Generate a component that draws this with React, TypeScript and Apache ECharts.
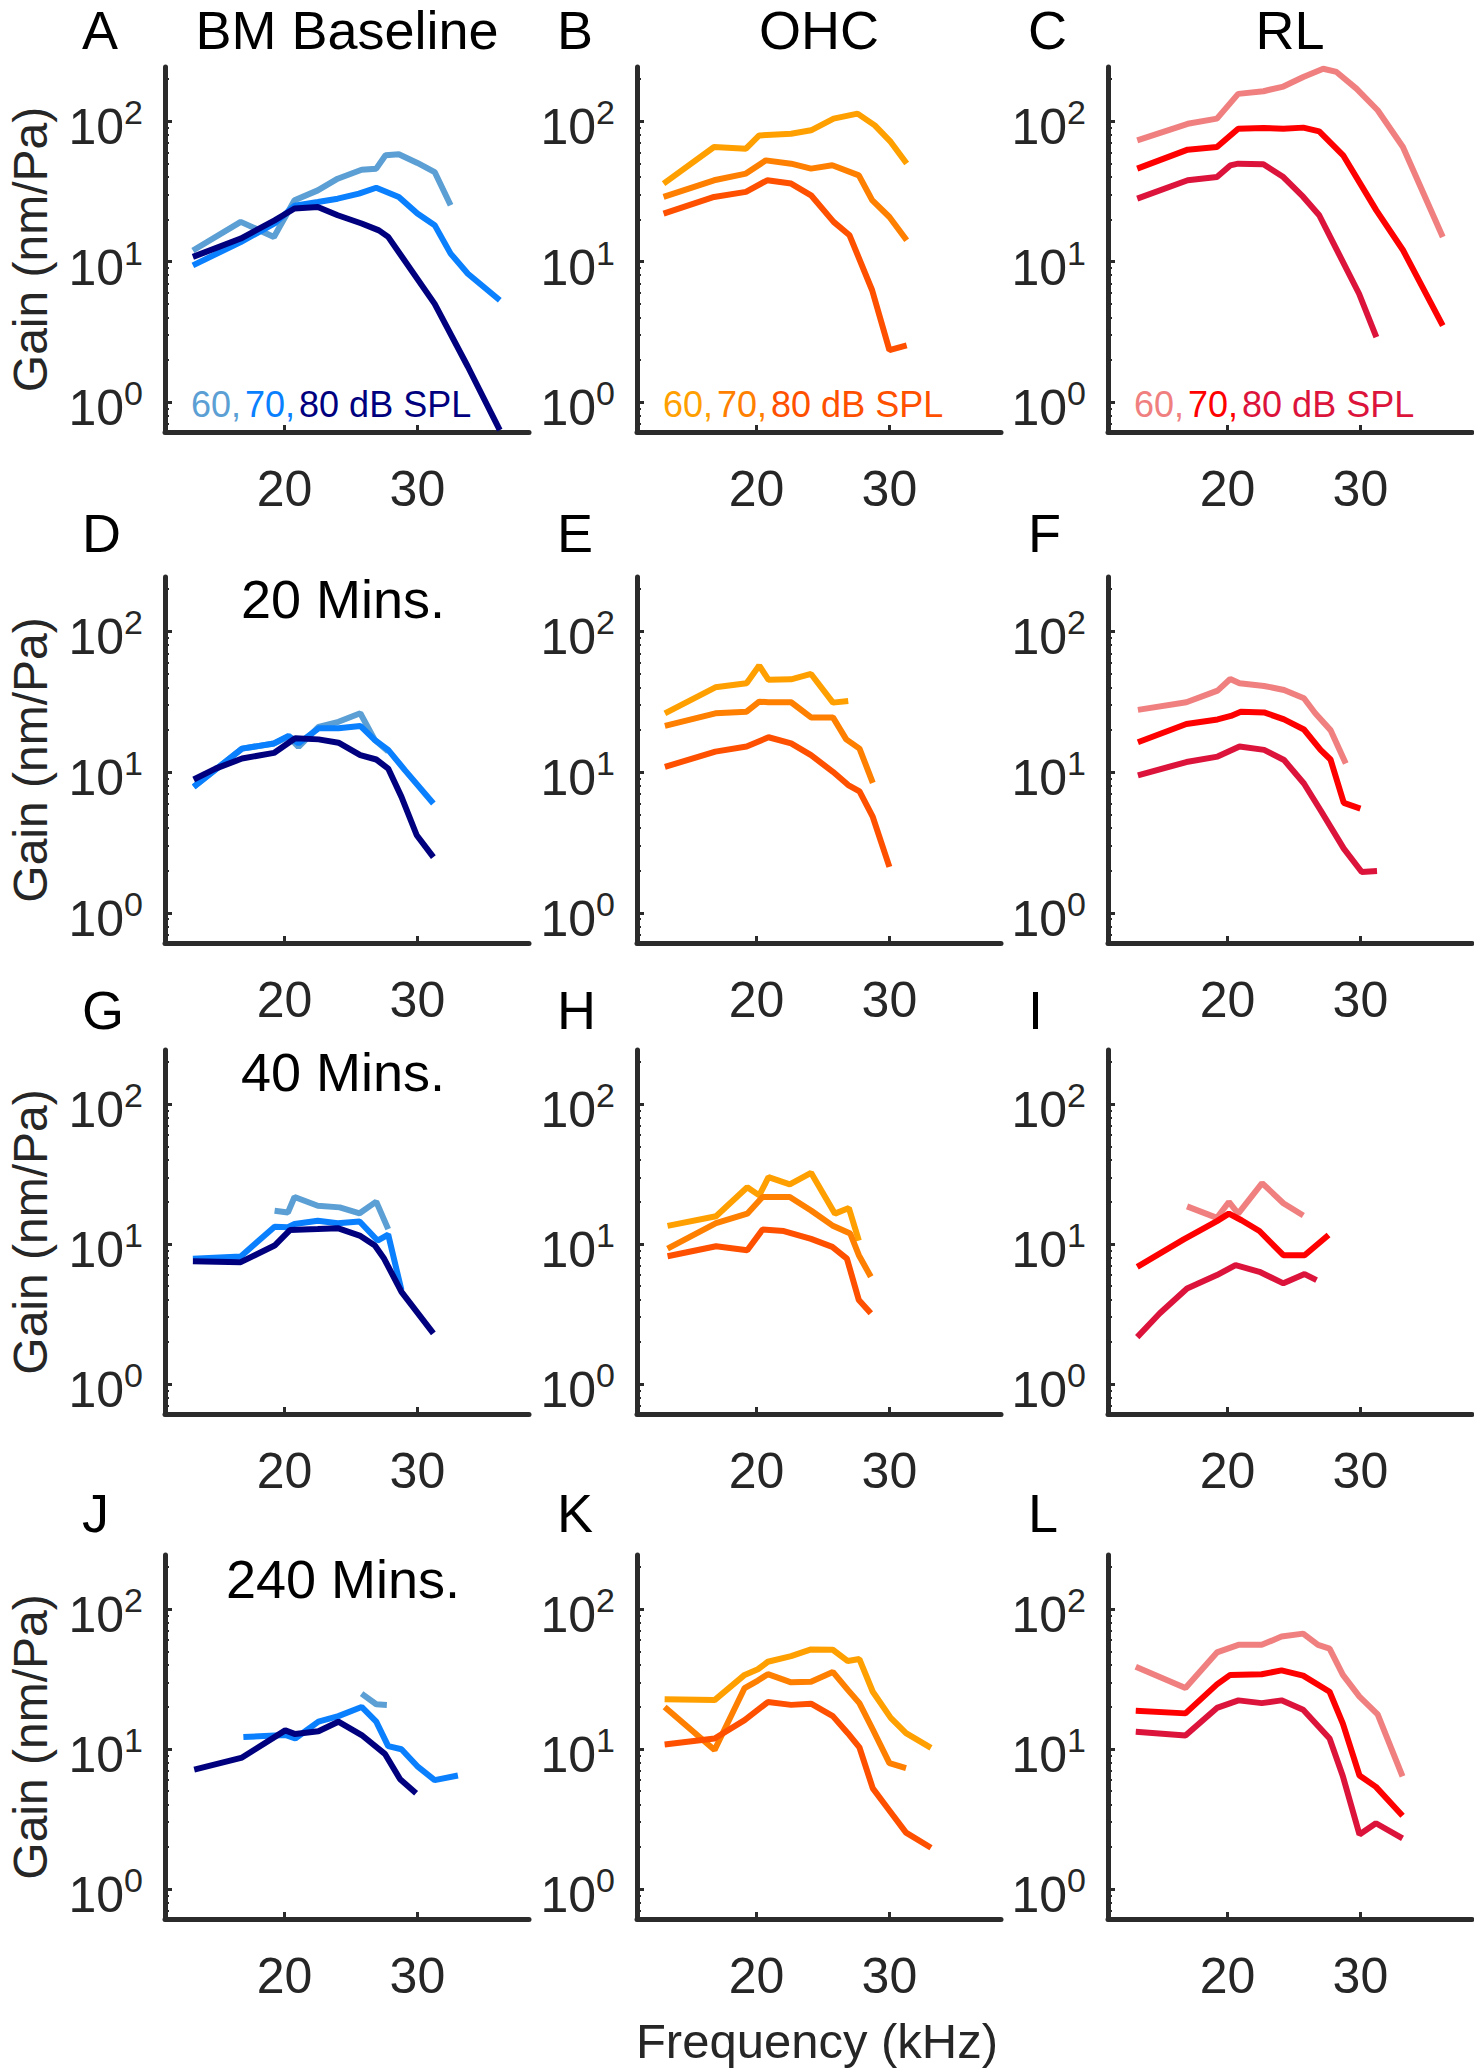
import { useEffect, useRef } from "react";
import * as echarts from "echarts";

// ---------- data: [frequency (kHz), gain (nm/Pa)] ----------
const A60 = [[13.1,12.0],[16.7,19.2],[19.2,15.0],[20.75,27.4],[22.5,32.2],[24.0,39.0],[25.8,45.2],[26.9,46],[27.6,57.3],[28.6,58.2],[30.0,50.5],[31.3,43.5],[32.5,25.2]];
const A70 = [[13.1,9.4],[16.7,13.8],[19.25,18.7],[20.75,25],[22.5,26.6],[24.0,28.1],[25.6,30.5],[26.9,33.6],[28.6,28.9],[30.0,22],[31.3,18.2],[32.5,11.4],[33.8,8.2],[36.2,5.3]];
const A80 = [[13.1,10.8],[16.7,14.6],[19.25,19.7],[20.75,23.9],[22.5,24.5],[24.0,21.4],[25.8,18.7],[27.1,16.7],[27.8,15.0],[31.3,5.0],[33.8,1.78],[36.2,0.63]];

const B60 = [[13.0,36],[16.8,65.6],[19.2,63.8],[20.2,79.4],[22.6,81.6],[24.1,86.3],[25.8,104.5],[27.6,113.5],[28.9,93.6],[30.1,71.3],[31.3,50]];
const B70 = [[13.0,28.9],[16.8,38],[19.2,42.4],[20.7,52.7],[22.6,49.9],[24.1,46],[25.7,48.6],[27.7,41.2],[28.7,27.4],[30.0,20.8],[31.3,14.2]];
const B80 = [[13.0,22],[16.8,28.9],[19.2,31.4],[20.8,38],[22.6,36],[24.1,29.7],[25.8,19.2],[27.0,15.4],[28.7,6.25],[30.0,2.34],[31.3,2.53]];

const C60 = [[13.2,73.2],[17.0,96],[19.2,104.5],[20.8,157],[22.7,164],[24.2,177],[25.7,207],[27.2,237],[28.2,225],[29.7,171],[31.3,120],[33.2,65.6],[36.2,15]];
const C70 = [[13.2,46],[17.0,62.8],[19.2,65.6],[20.8,88.7],[22.7,89.6],[24.2,88.7],[25.7,90.2],[26.9,84.9],[28.7,57.3],[31.2,23.2],[33.2,12.1],[36.2,3.5]];
const C80 = [[13.2,28.1],[17.0,38],[19.2,40.1],[20.2,48.5],[20.8,49.9],[22.7,49.4],[24.2,40.1],[25.7,28.9],[26.9,21.4],[29.9,5.9],[31.2,2.9]];

const D60 = [[13.16,7.86],[16.8,14.7],[19.2,16.0],[20.3,17.9],[21.05,15.1],[22.56,21.0],[24.06,22.8],[25.7,26.2],[26.8,16.9],[27.8,14.0]];
const D70 = [[13.16,7.86],[16.8,14.7],[19.2,16.0],[20.3,18.1],[21.05,16.0],[22.56,20.5],[24.06,20.5],[25.7,21.3],[26.8,16.9],[27.8,14.4],[29.07,10.3],[31.2,5.98]];
const D80 = [[13.16,8.87],[14.8,10.6],[16.8,12.5],[19.2,13.7],[20.8,17.4],[22.56,17.1],[24.06,16.2],[25.7,13.2],[26.9,12.3],[27.8,10.6],[28.8,6.67],[29.95,3.56],[31.2,2.49]];

const E60 = [[13.1,26.2],[16.9,40.1],[19.25,42.8],[20.2,57.3],[20.9,45.3],[22.6,45.7],[24.1,49.9],[25.75,31.2],[26.9,32.1]];
const E70 = [[13.1,21.3],[16.9,26.2],[19.25,26.9],[20.2,31.7],[20.9,31.4],[22.6,31.4],[24.1,24.5],[25.75,24.5],[26.75,17.1],[27.75,14.7],[28.75,8.4]];
const E80 = [[13.1,10.9],[16.9,14.0],[19.25,15.2],[20.9,17.7],[22.6,16.0],[24.1,13.2],[25.75,10.05],[26.9,8.1],[27.75,7.3],[28.75,4.8],[30.0,2.12]];

const F60 = [[13.25,27.7],[16.9,31.4],[19.25,38],[20.2,46],[20.9,42.8],[22.75,41],[24.25,38.4],[25.75,33.5],[26.6,26.2],[27.75,19.9],[28.9,11.5]];
const F70 = [[13.25,16.3],[16.9,22],[19.25,23.7],[20.25,25.1],[21,26.9],[22.75,26.6],[24.25,23.7],[25.75,20.1],[27,14.4],[27.75,12.3],[28.75,6.04],[30,5.5]];
const F80 = [[13.25,9.5],[16.9,11.8],[19.25,12.9],[20.9,15.2],[22.75,14.4],[24.25,12.2],[25.75,8.3],[27,5.36],[28.75,2.86],[30.1,1.95],[31.25,1.98]];

const G60 = [[19.25,17.3],[20.25,16.8],[20.75,21.7],[22.5,18.8],[24.15,18.3],[25.65,16.6],[26.9,20.1],[27.8,12.8]];
const G70 = [[13.1,7.85],[16.7,8.15],[19.25,13.3],[20.25,13.2],[20.75,13.9],[22.5,14.7],[24.0,14.1],[25.65,14.5],[27.0,10.6],[27.8,11.7],[28.8,4.68]];
const G80 = [[13.1,7.55],[16.7,7.43],[19.25,9.76],[20.4,12.6],[22.5,12.8],[24.0,13.0],[25.65,11.5],[26.8,9.76],[27.5,7.85],[28.8,4.55],[31.2,2.3]];

const H60 = [[13.3,13.5],[16.95,15.8],[19.3,25.5],[20.2,22.3],[20.9,30.1],[22.5,26.7],[24.1,32.3],[25.9,16.5],[26.95,18.1],[27.7,10.6]];
const H70 = [[13.3,9.29],[16.95,14.1],[19.3,16.5],[20.45,21.7],[22.5,21.7],[24.1,17.4],[25.7,13.6],[27.05,11.9],[27.7,8.33],[28.6,5.84]];
const H80 = [[13.3,8.19],[16.95,9.65],[19.3,9.04],[20.45,12.7],[22.05,12.4],[24.1,10.9],[25.7,9.55],[26.8,7.88],[27.7,3.98],[28.6,3.2]];

const I60 = [[16.95,18.6],[19.2,15.4],[20.1,20.0],[20.8,16.5],[22.6,27.3],[24.2,19.6],[25.7,16.0]];
const I70 = [[13.2,6.88],[16.7,10.8],[19.2,14.6],[20.1,16.5],[21.05,14.8],[22.4,12.4],[24.2,8.33],[25.8,8.33],[27.6,11.6]];
const I80 = [[13.2,2.16],[14.9,3.2],[16.95,4.82],[19.2,6.0],[20.6,7.07],[22.4,6.34],[24.2,5.24],[25.8,6.1],[26.7,5.53]];

const J60 = [[25.8,24.9],[26.9,20.9],[27.7,20.7]];
const J70 = [[16.9,12.2],[20.05,12.6],[20.8,11.9],[22.55,15.7],[24.05,17.2],[25.8,20.0],[26.9,15.7],[27.8,10.5],[28.8,9.97],[30.05,7.45],[31.3,6.0],[33.05,6.47]];
const J80 = [[13.2,7.14],[16.8,8.7],[20.05,13.6],[20.8,12.8],[22.55,13.4],[24.05,15.7],[25.8,12.6],[27.55,9.25],[28.7,6.08],[29.9,4.84]];

const K60 = [[13.08,22.7],[16.84,22.4],[19.1,33.9],[20.1,37.2],[20.85,42.1],[22.6,46.2],[24.1,51.6],[25.74,51.3],[26.87,42.6],[27.74,44.0],[28.75,25.7],[30.1,16.7],[31.25,13.0],[33.13,10.2]];
const K70 = [[13.08,20.0],[16.84,9.84],[19.1,27.3],[20.1,30.9],[20.85,34.3],[22.6,30.0],[24.1,30.3],[25.74,35.6],[26.87,26.5],[27.74,21.3],[28.75,13.8],[30.0,7.93],[31.25,7.32]];
const K80 = [[13.08,10.8],[16.84,11.9],[19.1,16.1],[20.85,21.7],[22.6,20.7],[24.1,21.1],[25.74,17.2],[26.87,13.0],[27.74,10.3],[28.75,5.24],[29.87,3.78],[31.25,2.53],[33.13,1.97]];

const L60 = [[13.09,38.8],[16.83,27.3],[19.2,49.1],[20.82,55.6],[22.57,55.6],[24.06,63.7],[25.69,66.9],[26.81,55.6],[27.68,52.3],[28.68,33.9],[29.93,23.7],[31.3,17.7],[33.17,6.39]];
const L70 = [[13.09,18.8],[16.83,18.0],[19.2,29.0],[20.2,33.9],[22.57,34.3],[24.06,36.5],[25.69,33.5],[27.68,25.7],[28.68,15.2],[29.93,6.47],[31.17,5.37],[33.17,3.34]];
const L80 = [[13.09,13.3],[16.83,12.5],[19.2,19.7],[20.82,22.3],[22.57,21.3],[24.06,22.3],[25.69,19.1],[27.68,11.9],[28.68,6.39],[29.93,2.45],[31.17,2.95],[33.17,2.30]];

const X_TICKS = [20, 30];
const Y_MAJOR = [1, 10, 100];
const Y_MINOR = [0.7, 0.8, 0.9, 2, 3, 4, 5, 6, 7, 8, 9, 20, 30, 40, 50, 60, 70, 80, 90, 200];
const LEVELS = ["60,", "70,", "80 dB SPL"];
const COLUMN_TITLES = ["BM Baseline", "OHC", "RL"];
const ROW_LABELS = ["", "20 Mins.", "40 Mins.", "240 Mins."];
const LETTERS = ["A", "B", "C", "D", "E", "F", "G", "H", "I", "J", "K", "L"];

const BLUES = ["#5b9fd4", "#0a80ff", "#00007f"];
const ORANGES = ["#ffa000", "#ff7f00", "#ff5000"];
const REDS = ["#f08080", "#ff0000", "#dc143c"];
const COL_COLORS = [BLUES, ORANGES, REDS];

const PANEL_DATA = [
  [A60, A70, A80], [B60, B70, B80], [C60, C70, C80],
  [D60, D70, D80], [E60, E70, E80], [F60, F70, F80],
  [G60, G70, G80], [H60, H70, H80], [I60, I70, I80],
  [J60, J70, J80], [K60, K70, K80], [L60, L70, L80],
];

// ---------- layout ----------
const W = 1474;
const H = 2070;
const COL_LEFT = [165, 637, 1108];
const GRID_W = 364;
const ROW_TOP = [67, 577, 1050, 1555];
const ROW_H = [365, 366, 364, 364];
const LETTER_X = [82, 557, 1028];
const LETTER_Y = [30, 533, 1010, 1513];
const ROW_LABEL_Y = [0, 599, 1072, 1579];
const X_MIN = 11;
const X_MAX = 38.4;
const Y_MIN = 0.61;
const Y_MAX = 244;

const FONT = "'Liberation Sans', Arial, Helvetica, sans-serif";
const AXIS = "#2b2b2b";
const LABEL = "#262626";

function buildOption() {
  const grid: any[] = [];
  const xAxis: any[] = [];
  const yAxis: any[] = [];
  const series: any[] = [];
  const graphic: any[] = [];

  PANEL_DATA.forEach((panel, i) => {
    const r = Math.floor(i / 3);
    const c = i % 3;
    grid.push({
      left: COL_LEFT[c],
      top: ROW_TOP[r],
      width: GRID_W,
      height: ROW_H[r],
      containLabel: false,
      outerBoundsMode: "none",
    });
    xAxis.push({
      type: "value",
      gridIndex: i,
      position: "bottom",
      min: X_MIN,
      max: X_MAX,
      axisLine: { show: true, onZero: false, lineStyle: { color: AXIS, width: 5 } },
      axisTick: { show: true, inside: true, length: 7, customValues: X_TICKS, lineStyle: { color: AXIS, width: 3 } },
      axisLabel: {
        show: true,
        customValues: X_TICKS,
        margin: 32,
        fontSize: 50,
        fontFamily: FONT,
        color: LABEL,
      },
      splitLine: { show: false },
    });
    yAxis.push({
      type: "log",
      logBase: 10,
      gridIndex: i,
      position: "left",
      min: Y_MIN,
      max: Y_MAX,
      axisLine: { show: true, lineStyle: { color: AXIS, width: 5 } },
      axisTick: { show: true, inside: true, length: 7, customValues: Y_MAJOR, lineStyle: { color: AXIS, width: 3 } },
      axisLabel: {
        show: true,
        customValues: Y_MAJOR,
        margin: 22,
        padding: [12, 0, 0, 0],
        formatter: (v: number) => {
          const e = Math.round(Math.log10(v));
          if (Math.abs(Math.log10(v) - e) > 0.01) return "";
          return `{b|10}{s|${e}}`;
        },
        rich: {
          b: { fontSize: 50, lineHeight: 64, fontFamily: FONT, color: LABEL },
          s: { fontSize: 34, lineHeight: 34, fontFamily: FONT, color: LABEL, verticalAlign: "top" },
        },
      },
      splitLine: { show: false },
      minorTick: { show: false },
      minorSplitLine: { show: false },
    });
    yAxis.push({
      type: "log",
      logBase: 10,
      gridIndex: i,
      position: "left",
      offset: 0,
      min: Y_MIN,
      max: Y_MAX,
      axisLine: { show: false },
      axisTick: { show: true, inside: true, length: 4, customValues: Y_MINOR, lineStyle: { color: AXIS, width: 2 } },
      axisLabel: { show: false },
      splitLine: { show: false },
    });

    panel.forEach((data, k) => {
      series.push({
        type: "line",
        name: `${LETTERS[i]} ${LEVELS[k]}`,
        xAxisIndex: i,
        yAxisIndex: 2 * i,
        data,
        showSymbol: false,
        symbol: "none",
        clip: true,
        silent: true,
        z: 2 + k,
        lineStyle: { color: COL_COLORS[c][k], width: 6 },
        itemStyle: { color: COL_COLORS[c][k] },
      });
    });

    // panel letter
    graphic.push({
      type: "text",
      x: LETTER_X[c],
      y: LETTER_Y[r],
      silent: true,
      style: { text: LETTERS[i], fontSize: 54, lineHeight: 46, fontFamily: FONT, fill: "#000", align: "left", verticalAlign: "middle" },
    });
  });

  // column titles
  COLUMN_TITLES.forEach((t, c) => {
    graphic.push({
      type: "text",
      x: COL_LEFT[c] + GRID_W / 2,
      y: LETTER_Y[0],
      silent: true,
      style: { text: t, fontSize: 54, lineHeight: 46, fontFamily: FONT, fill: "#000", align: "center", verticalAlign: "middle" },
    });
  });

  // time labels
  ROW_LABELS.forEach((t, r) => {
    if (!t) return;
    graphic.push({
      type: "text",
      x: COL_LEFT[0] + 178,
      y: ROW_LABEL_Y[r],
      silent: true,
      style: { text: t, fontSize: 54, lineHeight: 46, fontFamily: FONT, fill: "#000", align: "center", verticalAlign: "middle" },
    });
  });

  // level legends in top row
  COL_COLORS.forEach((cols, c) => {
    graphic.push({
      type: "text",
      x: COL_LEFT[c] + 26,
      y: 404,
      silent: true,
      style: {
        text: `{a|${LEVELS[0]}}{b|${LEVELS[1]}}{c|${LEVELS[2]}}`,
        fontSize: 36,
        fontFamily: FONT,
        align: "left",
        verticalAlign: "middle",
        rich: {
          a: { fill: cols[0], fontSize: 36, fontFamily: FONT, padding: [0, 4, 0, 0] },
          b: { fill: cols[1], fontSize: 36, fontFamily: FONT, padding: [0, 4, 0, 0] },
          c: { fill: cols[2], fontSize: 36, fontFamily: FONT },
        },
      },
    });
  });

  // y axis titles
  ROW_TOP.forEach((top, r) => {
    graphic.push({
      type: "text",
      x: 30,
      y: top + ROW_H[r] / 2,
      rotation: Math.PI / 2,
      silent: true,
      style: { text: "Gain (nm/Pa)", fontSize: 48, lineHeight: 44, fontFamily: FONT, fill: LABEL, align: "center", verticalAlign: "middle" },
    });
  });

  // x axis title
  graphic.push({
    type: "text",
    x: COL_LEFT[1] + GRID_W / 2 - 2,
    y: 2041,
    silent: true,
    style: { text: "Frequency (kHz)", fontSize: 49, fontFamily: FONT, fill: LABEL, align: "center", verticalAlign: "middle" },
  });

  return {
    animation: false,
    backgroundColor: "#ffffff",
    grid,
    xAxis,
    yAxis,
    series,
    graphic,
  };
}

export default function App() {
  const ref = useRef<HTMLDivElement | null>(null);
  useEffect(() => {
    if (!ref.current) return;
    const chart = echarts.init(ref.current, undefined, { renderer: "svg" });
    chart.setOption(buildOption());
    return () => chart.dispose();
  }, []);
  return (
    <div
      ref={ref}
      style={{ position: "absolute", left: 0, top: 0, width: W, height: H, background: "#fff" }}
    />
  );
}
